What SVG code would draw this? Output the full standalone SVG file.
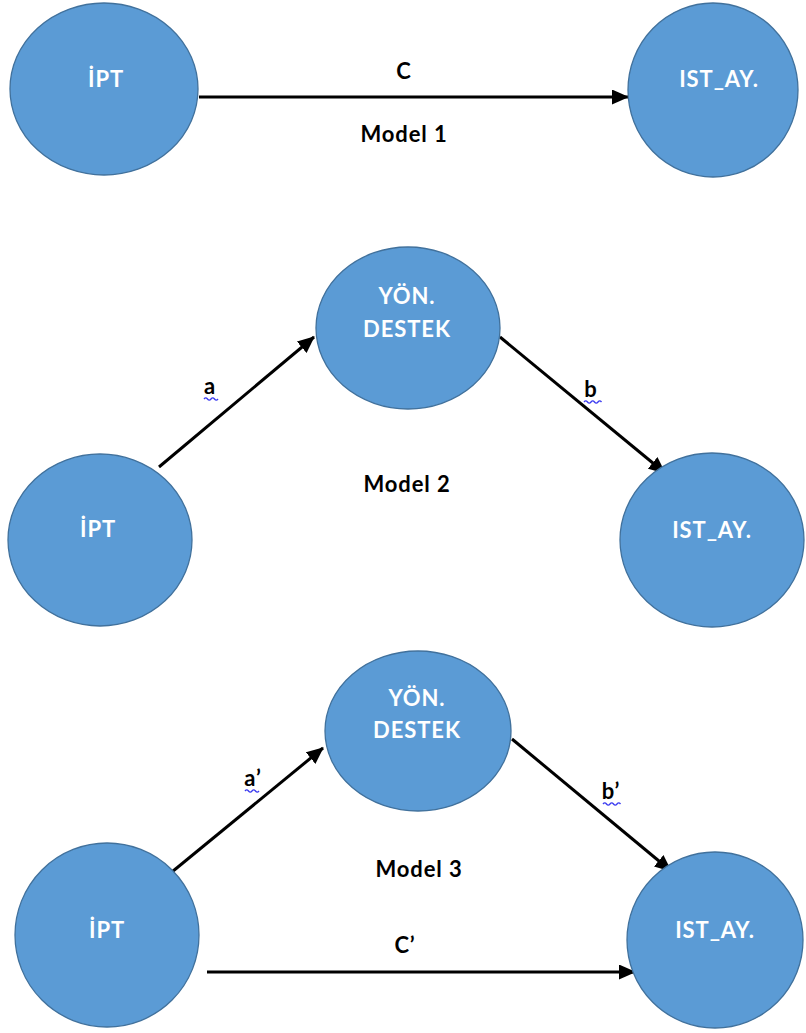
<svg xmlns="http://www.w3.org/2000/svg" width="806" height="1033" viewBox="0 0 806 1033">
  <style>
    .node { fill: #5B9BD5; stroke: #41719C; stroke-width: 1.3; }
    .ntext { fill: #FFFFFF; font-family: Lato, "Open Sans", sans-serif; font-weight: bold; font-size: 22px; letter-spacing: 0.9px; text-anchor: middle; }
    .label { fill: #000000; font-family: Lato, "Open Sans", sans-serif; font-weight: bold; font-size: 22px; letter-spacing: 0.9px; text-anchor: middle; }
    .edge { stroke: #000000; stroke-width: 3; fill: none; marker-end: url(#arrow); }
    .squiggle { stroke: #3A3AF0; stroke-width: 1.3; fill: none; }
  </style>
  <defs>
    <marker id="arrow" markerUnits="userSpaceOnUse" markerWidth="17" markerHeight="15" viewBox="0 0 17 15" refX="16" refY="7.5" orient="auto">
      <path d="M0,0 L17,7.5 L0,15 Z" fill="#000000"/>
    </marker>
  </defs>

  <rect width="806" height="1033" fill="#FFFFFF"/>

  <!-- connectors -->
  <g id="connectors">
    <line class="edge" x1="199" y1="97" x2="628" y2="97"/>
    <line class="edge" x1="159" y1="467" x2="314" y2="337"/>
    <line class="edge" x1="500" y1="337" x2="665" y2="473"/>
    <line class="edge" x1="167" y1="876" x2="323" y2="748"/>
    <line class="edge" x1="512" y1="739" x2="671" y2="871"/>
    <line class="edge" x1="207" y1="972" x2="635" y2="972"/>
  </g>

  <!-- edge and model labels -->
  <g id="labels">
    <text class="label" x="404" y="79">C</text>
    <text class="label" x="404" y="142">Model 1</text>
    <text class="label" x="210" y="394">a</text>
    <text class="label" x="591" y="397">b</text>
    <text class="label" x="407" y="492">Model 2</text>
    <text class="label" x="253" y="786">a’</text>
    <text class="label" x="611" y="799">b’</text>
    <text class="label" x="419" y="877">Model 3</text>
    <text class="label" x="405" y="953">C’</text>
    <path class="squiggle" d="M204,399 q1.75,-2.4 3.5,0 t3.5,0 t3.5,0 t3.5,0"/>
    <path class="squiggle" d="M584,402 q1.75,-2.4 3.5,0 t3.5,0 t3.5,0 t3.5,0 t3.5,0"/>
    <path class="squiggle" d="M245,791 q1.75,-2.4 3.5,0 t3.5,0 t3.5,0 t3.5,0"/>
    <path class="squiggle" d="M603,804 q1.75,-2.4 3.5,0 t3.5,0 t3.5,0 t3.5,0 t3.5,0"/>
  </g>

  <!-- Model 1 -->
  <g id="m1-ipt">
    <ellipse class="node" cx="104" cy="89" rx="94" ry="86"/>
    <text class="ntext" x="106" y="87">İPT</text>
  </g>
  <g id="m1-istay">
    <ellipse class="node" cx="713" cy="90" rx="85" ry="87"/>
    <text class="ntext" x="719" y="87">IST_AY.</text>
  </g>

  <!-- Model 2 -->
  <g id="m2-yon">
    <ellipse class="node" cx="408" cy="328" rx="92" ry="81"/>
    <text class="ntext" x="407" y="304">YÖN.</text>
    <text class="ntext" x="407" y="337">DESTEK</text>
  </g>
  <g id="m2-ipt">
    <ellipse class="node" cx="100" cy="540" rx="92" ry="86"/>
    <text class="ntext" x="98" y="537">İPT</text>
  </g>
  <g id="m2-istay">
    <ellipse class="node" cx="712" cy="540" rx="92" ry="87"/>
    <text class="ntext" x="712" y="538">IST_AY.</text>
  </g>

  <!-- Model 3 -->
  <g id="m3-yon">
    <ellipse class="node" cx="418" cy="731" rx="93" ry="80"/>
    <text class="ntext" x="417" y="706">YÖN.</text>
    <text class="ntext" x="417" y="738">DESTEK</text>
  </g>
  <g id="m3-ipt">
    <ellipse class="node" cx="107" cy="935" rx="92" ry="92"/>
    <text class="ntext" x="107" y="938">İPT</text>
  </g>
  <g id="m3-istay">
    <ellipse class="node" cx="715" cy="940" rx="88" ry="88"/>
    <text class="ntext" x="715" y="938">IST_AY.</text>
  </g>
</svg>
